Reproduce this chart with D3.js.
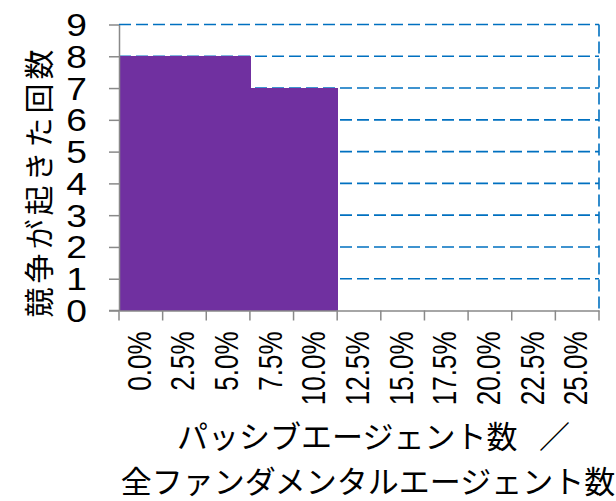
<!DOCTYPE html>
<meta charset="utf-8">
<style>
body { margin: 0; background: #fff; }
.domain { stroke: #898989; stroke-width: 1.5; }
.tick line { stroke: #898989; stroke-width: 1.5; }
</style>
<body>
<div id="chart"></div>
<script src="https://d3js.org/d3.v7.min.js"></script>
<script>
// data
var categories = ["0.0%", "2.5%", "5.0%", "7.5%", "10.0%", "12.5%", "15.0%", "17.5%", "20.0%", "22.5%", "25.0%"];
var counts = [8, 8, 8, 7, 7, 0, 0, 0, 0, 0, 0];
var yTicks = [0, 1, 2, 3, 4, 5, 6, 7, 8, 9];
var yTitle = "競争が起きた回数";
var xTitle = ["パッシブエージェント数\u2002\u2009／", "全ファンダメンタルエージェント数"];

var width = 616, height = 501;
var margin = {top: 24.5, right: 17, bottom: 190.5, left: 119};

var svg = d3.select("#chart").append("svg")
    .attr("width", width)
    .attr("height", height);

var x = d3.scaleBand()
    .domain(categories)
    .range([margin.left, width - margin.right])
    .padding(0);

var y = d3.scaleLinear()
    .domain([0, 9])
    .range([height - margin.bottom, margin.top]);

var data = categories.map(function(c, i) { return {key: c, value: counts[i]}; });

// dashed gridlines
svg.append("g").selectAll("line")
    .data(yTicks.filter(function(d) { return d > 0; }))
  .enter().append("line")
    .attr("x1", margin.left)
    .attr("x2", width - margin.right)
    .attr("y1", function(d) { return y(d); })
    .attr("y2", function(d) { return y(d); })
    .attr("stroke", "#0070C0")
    .attr("stroke-width", 1.6)
    .attr("stroke-dasharray", "12,5");

// right edge dashed line
svg.append("line")
    .attr("x1", width - margin.right)
    .attr("x2", width - margin.right)
    .attr("y1", y(9))
    .attr("y2", y(0))
    .attr("stroke", "#0070C0")
    .attr("stroke-width", 1.6)
    .attr("stroke-dasharray", "12,5");

// bars (no gap, so they read as one stepped block)
svg.append("g")
    .attr("shape-rendering", "crispEdges")
  .selectAll("rect")
    .data(data.filter(function(d) { return d.value > 0; }))
  .enter().append("rect")
    .attr("x", function(d) { return x(d.key); })
    .attr("y", function(d) { return y(d.value); })
    .attr("width", x.bandwidth() + 1)
    .attr("height", function(d) { return y(0) - y(d.value); })
    .attr("fill", "#7030A0");

// y axis
var yAxis = svg.append("g")
    .attr("transform", "translate(" + margin.left + ",0)")
    .call(d3.axisLeft(y).tickValues(yTicks).tickSize(10).tickSizeOuter(0).tickFormat(d3.format("d")));

yAxis.selectAll("text")
    .attr("x", null)
    .attr("dy", null)
    .attr("text-anchor", "end")
    .attr("font-family", "Liberation Sans, Arial, sans-serif")
    .attr("font-size", 31)
    .attr("fill", "#000")
    .attr("transform", "translate(-32,11) scale(1.2,1)");

// x axis
var xAxis = svg.append("g")
    .attr("transform", "translate(0," + y(0) + ")")
    .call(d3.axisBottom(x).tickSize(0).tickSizeOuter(0));

xAxis.selectAll("text")
    .attr("x", null)
    .attr("y", null)
    .attr("dy", null)
    .attr("text-anchor", "end")
    .attr("font-family", "Liberation Sans, Arial, sans-serif")
    .attr("font-size", 26)
    .attr("fill", "#000")
    .attr("transform", "translate(10,21) rotate(-90) scale(1,1.25)");

// boundary tick marks on x axis
var bounds = categories.map(function(c) { return x(c); }).concat([x.range()[1]]);
xAxis.append("g").selectAll("line")
    .data(bounds)
  .enter().append("line")
    .attr("x1", function(d) { return d; })
    .attr("x2", function(d) { return d; })
    .attr("y1", 0)
    .attr("y2", 10)
    .attr("stroke", "#898989")
    .attr("stroke-width", 1.5);

xAxis.append("line")
    .attr("x1", margin.left - 10)
    .attr("x2", margin.left)
    .attr("stroke", "#898989")
    .attr("stroke-width", 1.5);

// titles
svg.append("text")
    .attr("transform", "translate(50," + ((y(0) + y(9)) / 2 + 14) + ") rotate(-90)")
    .attr("text-anchor", "middle")
    .attr("font-family", "Noto Sans CJK JP, sans-serif")
    .attr("font-size", 30)
    .attr("letter-spacing", 4)
    .attr("fill", "#000")
    .text(yTitle);

svg.selectAll(".xtitle")
    .data(xTitle)
  .enter().append("text")
    .attr("class", "xtitle")
    .attr("x", function(d, i) { return i === 0 ? 177 : 368; })
    .attr("y", function(d, i) { return 448 + i * 45; })
    .attr("text-anchor", function(d, i) { return i === 0 ? "start" : "middle"; })
    .attr("font-family", "Noto Sans CJK JP, sans-serif")
    .attr("font-size", 31)
    .attr("fill", "#000")
    .text(function(d) { return d; });
</script>
</body>
